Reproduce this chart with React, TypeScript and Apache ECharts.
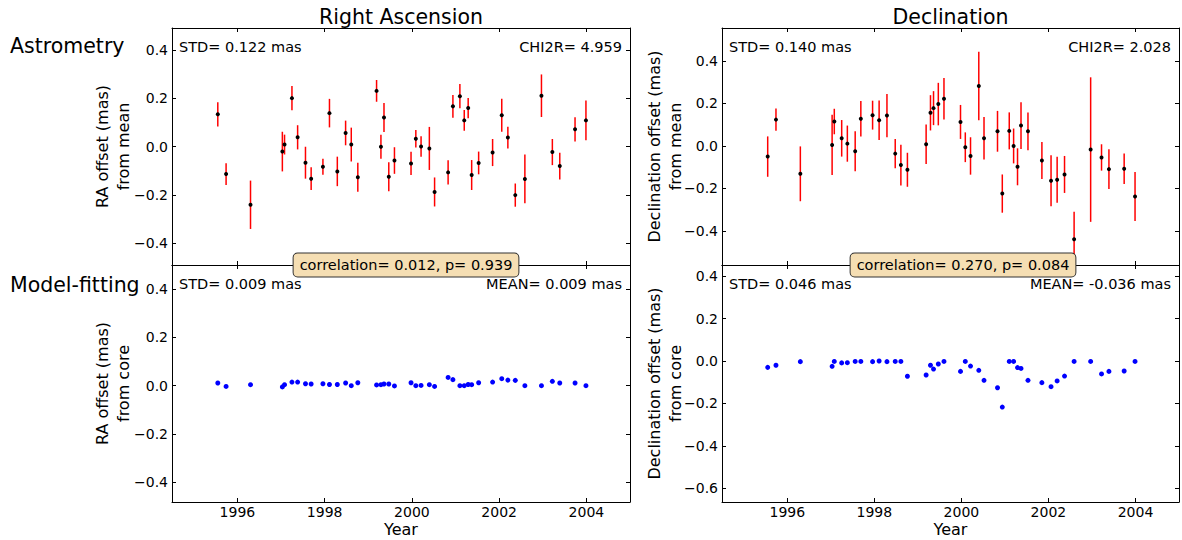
import React, { useEffect, useRef } from "react";
import * as echarts from "echarts";

// Epochs (decimal year) shared by all four panels
const years = [
  1995.55, 1995.74, 1996.3, 1997.03, 1997.08, 1997.25, 1997.38, 1997.56, 1997.69, 1997.96,
  1998.11, 1998.29, 1998.48, 1998.61, 1998.76, 1999.19, 1999.29, 1999.36, 1999.47, 1999.6,
  1999.98, 2000.09, 2000.21, 2000.4, 2000.52, 2000.83, 2000.94, 2001.1, 2001.2, 2001.29,
  2001.37, 2001.53, 2001.85, 2002.06, 2002.2, 2002.37, 2002.59, 2002.97, 2003.22, 2003.39,
  2003.74, 2003.99,
];

// Astrometry: RA offset from mean (mas) and its error
const raAstro = [
  0.133, -0.114, -0.241, -0.021, 0.008, 0.2, 0.038, -0.067, -0.133, -0.084,
  0.138, -0.103, 0.056, 0.008, -0.127, 0.23, -0.001, 0.12, -0.125, -0.058,
  -0.07, 0.032, 0.0, -0.008, -0.188, -0.107, 0.166, 0.208, 0.108, 0.159,
  -0.118, -0.068, -0.025, 0.129, 0.037, -0.201, -0.134, 0.21, -0.023, -0.081,
  0.071, 0.108,
];
const raAstroErr = [
  0.05, 0.045, 0.1, 0.082, 0.041, 0.05, 0.05, 0.066, 0.047, 0.033,
  0.059, 0.061, 0.051, 0.07, 0.06, 0.045, 0.05, 0.06, 0.06, 0.055,
  0.048, 0.036, 0.042, 0.089, 0.06, 0.05, 0.047, 0.05, 0.043, 0.042,
  0.062, 0.047, 0.056, 0.068, 0.045, 0.048, 0.101, 0.088, 0.054, 0.055,
  0.05, 0.082,
];

// Astrometry: Declination offset from mean (mas) and its error
const decAstro = [
  -0.05, 0.124, -0.131, 0.005, 0.115, 0.036, 0.011, -0.025, 0.128, 0.145,
  0.121, 0.143, -0.036, -0.09, -0.112, 0.008, 0.156, 0.178, 0.197, 0.222,
  0.113, -0.006, -0.047, 0.282, 0.036, 0.069, -0.224, 0.071, 0.0, -0.098,
  0.096, 0.069, -0.068, -0.164, -0.159, -0.134, -0.439, -0.017, -0.054, -0.109,
  -0.107, -0.238,
];
const decAstroErr = [
  0.095, 0.052, 0.129, 0.142, 0.06, 0.086, 0.085, 0.094, 0.083, 0.068,
  0.093, 0.102, 0.069, 0.096, 0.08, 0.093, 0.083, 0.08, 0.1, 0.098,
  0.08, 0.07, 0.088, 0.161, 0.1, 0.096, 0.09, 0.087, 0.082, 0.087,
  0.11, 0.089, 0.087, 0.12, 0.108, 0.087, 0.13, 0.34, 0.062, 0.094,
  0.072, 0.115,
];

// Model-fitting: offsets from core (mas)
const raModel = [
  0.011, -0.003, 0.004, -0.005, 0.004, 0.015, 0.015, 0.008, 0.007, 0.008,
  0.005, 0.005, 0.011, 0.0, 0.012, 0.003, 0.004, 0.007, 0.007, -0.001,
  0.012, 0.0, 0.001, 0.004, -0.003, 0.034, 0.025, 0.0, 0.0, 0.005,
  0.004, 0.012, 0.015, 0.029, 0.023, 0.022, 0.0, 0.0, 0.018, 0.011,
  0.011, 0.0,
];
const decModel = [
  -0.03, -0.02, -0.003, -0.025, -0.002, -0.009, -0.008, -0.002, -0.002, -0.003,
  0.0, -0.003, -0.002, -0.002, -0.072, -0.066, -0.02, -0.038, -0.014, -0.002,
  -0.049, -0.002, -0.024, -0.044, -0.091, -0.126, -0.217, -0.002, -0.002, -0.031,
  -0.035, -0.091, -0.102, -0.121, -0.094, -0.071, -0.002, -0.002, -0.061, -0.049,
  -0.047, -0.002,
];

// Tick labels
const xTicks = [1996, 1998, 2000, 2002, 2004];
const yTicksStd = [-0.4, -0.2, 0, 0.2, 0.4];
const yTicksDecModel = [-0.6, -0.4, -0.2, 0, 0.2, 0.4];

// Annotation texts
const columnTitles = ["Right Ascension", "Declination"];
const rowTitles = ["Astrometry", "Model-fitting"];
const stdTexts = ["STD= 0.122 mas", "STD= 0.009 mas", "STD= 0.140 mas", "STD= 0.046 mas"];
const rightTexts = ["CHI2R= 4.959", "MEAN= 0.009 mas", "CHI2R= 2.028", "MEAN= -0.036 mas"];
const corrTexts = ["correlation= 0.012, p= 0.939", "correlation= 0.270, p= 0.084"];

const FONT = "DejaVu Sans";
const X_MIN = 1994.5;
const X_MAX = 2005;

// layout of the four panels: TL, BL, TR, BR
const panels = [
  { left: 172, top: 28, width: 458, height: 237, yMin: -0.49, yMax: 0.49, ticks: yTicksStd, labelsX: false, yName: "RA offset (mas)\nfrom mean", gap: 38 },
  { left: 172, top: 265, width: 458, height: 237, yMin: -0.481, yMax: 0.499, ticks: yTicksStd, labelsX: true, yName: "RA offset (mas)\nfrom core", gap: 38 },
  { left: 722, top: 28, width: 457, height: 237, yMin: -0.56, yMax: 0.555, ticks: yTicksStd, labelsX: false, yName: "Declination offset (mas)\nfrom mean", gap: 36 },
  { left: 722, top: 265, width: 457, height: 237, yMin: -0.664, yMax: 0.452, ticks: yTicksDecModel, labelsX: true, yName: "Declination offset (mas)\nfrom core", gap: 36 },
];

const fmtY = (v: number) => {
  const s = Math.abs(v) < 1e-9 ? "0.0" : v.toFixed(1);
  return s.replace("-", "\u2212");
};

function buildOption() {
  const lineStyle = { color: "#000", width: 1 };
  const grid: any[] = [];
  const xAxis: any[] = [];
  const yAxis: any[] = [];
  panels.forEach((p, g) => {
    grid.push({ left: p.left, top: p.top, width: p.width, height: p.height, containLabel: false, outerBoundsMode: "none" });
    const xBase = {
      gridIndex: g, type: "value", min: X_MIN, max: X_MAX,
      splitLine: { show: false },
      axisLine: { show: true, onZero: false, lineStyle },
      axisTick: { show: true, inside: true, length: 4, customValues: xTicks, lineStyle },
    };
    xAxis.push({
      ...xBase, position: "bottom",
      axisLabel: { show: p.labelsX, customValues: xTicks, formatter: (v: number) => String(Math.round(v)), fontSize: 14, fontFamily: FONT, color: "#000", margin: 3 },
      name: p.labelsX ? "Year" : "", nameLocation: "middle", nameGap: 19, nameMoveOverlap: false,
      nameTextStyle: { fontSize: 16, fontFamily: FONT, color: "#000" },
    });
    xAxis.push({ ...xBase, position: "top", axisLabel: { show: false } });
    const yBase = {
      gridIndex: g, type: "value", min: p.yMin, max: p.yMax,
      splitLine: { show: false },
      axisLine: { show: true, onZero: false, lineStyle },
      axisTick: { show: true, inside: true, length: 4, customValues: p.ticks, lineStyle },
    };
    yAxis.push({
      ...yBase, position: "left",
      axisLabel: { show: true, customValues: p.ticks, formatter: fmtY, fontSize: 14, fontFamily: FONT, color: "#000", margin: 4 },
      name: p.yName, nameLocation: "middle", nameRotate: 90, nameGap: p.gap, nameMoveOverlap: false,
      nameTextStyle: { fontSize: 16, lineHeight: 21, fontFamily: FONT, color: "#000", align: "center" },
    });
    yAxis.push({ ...yBase, position: "right", axisLabel: { show: false } });
  });

  const errSeries = (g: number, vals: number[], errs: number[]) => ({
    type: "custom",
    xAxisIndex: 2 * g,
    yAxisIndex: 2 * g,
    clip: true,
    silent: true,
    z: 2,
    encode: { x: 0, y: [1, 2] },
    data: years.map((x, i) => [x, vals[i] - errs[i], vals[i] + errs[i]]),
    renderItem: (_params: any, api: any) => {
      const a = api.coord([api.value(0), api.value(1)]);
      const b = api.coord([api.value(0), api.value(2)]);
      return {
        type: "line",
        shape: { x1: a[0], y1: a[1], x2: b[0], y2: b[1] },
        style: { stroke: "#ff0000", lineWidth: 1.5 },
      };
    },
  });
  const dots = (g: number, vals: number[], color: string, size: number) => ({
    type: "scatter",
    xAxisIndex: 2 * g,
    yAxisIndex: 2 * g,
    symbol: "circle",
    symbolSize: size,
    itemStyle: { color, opacity: 1 },
    silent: true,
    z: 3,
    data: years.map((x, i) => [x, vals[i]]),
  });

  const series = [
    errSeries(0, raAstro, raAstroErr),
    dots(0, raAstro, "#000000", 4),
    dots(1, raModel, "#0000ff", 5),
    errSeries(2, decAstro, decAstroErr),
    dots(2, decAstro, "#000000", 4),
    dots(3, decModel, "#0000ff", 5),
  ];

  const txt = (text: string, x: number, y: number, size: number, align: string, extra: any = {}) => ({
    type: "text",
    x, y, z: 100,
    style: { text, fontSize: size, fontFamily: FONT, fill: "#000", textAlign: align, textVerticalAlign: "middle", ...extra },
  });

  const graphic: any[] = [];
  graphic.push(txt(columnTitles[0], panels[0].left + panels[0].width / 2, 17, 20.5, "center"));
  graphic.push(txt(columnTitles[1], panels[2].left + panels[2].width / 2, 17, 20.5, "center"));
  graphic.push(txt(rowTitles[0], 10, 46, 20.5, "left"));
  graphic.push(txt(rowTitles[1], 10, 285, 20.5, "left"));
  panels.forEach((p, g) => {
    graphic.push(txt(stdTexts[g], p.left + 7, p.top + 19, 14.5, "left"));
    graphic.push(txt(rightTexts[g], p.left + p.width - 8, p.top + 19, 14.5, "right"));
  });
  const boxStyle = { backgroundColor: "#f5deb3", borderColor: "#333", borderWidth: 1, borderRadius: 4, padding: [4, 6, 4, 6] };
  graphic.push(txt(corrTexts[0], 406, 265, 14.5, "center", boxStyle));
  graphic.push(txt(corrTexts[1], 963, 265, 14.5, "center", boxStyle));

  return {
    animation: false,
    backgroundColor: "#ffffff",
    textStyle: { fontFamily: FONT },
    grid, xAxis, yAxis, series, graphic,
  };
}

export default function App() {
  const ref = useRef<HTMLDivElement>(null);
  useEffect(() => {
    if (!ref.current) return;
    const chart = echarts.init(ref.current, undefined, { renderer: "svg" });
    chart.setOption(buildOption() as any);
    return () => chart.dispose();
  }, []);
  return (
    <div
      ref={ref}
      style={{ position: "absolute", left: 0, top: 0, width: 1182, height: 540, background: "#fff" }}
    />
  );
}
